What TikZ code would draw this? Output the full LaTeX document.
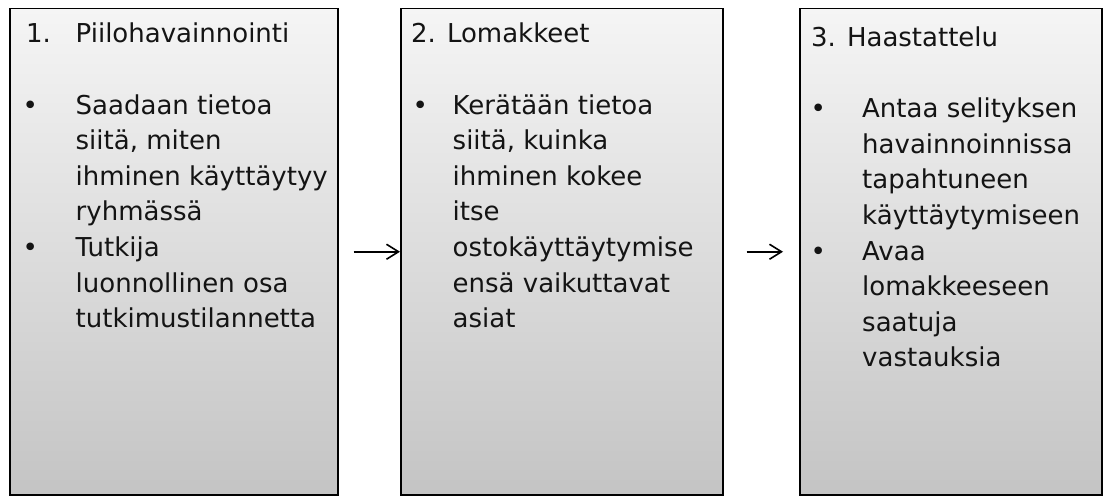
\documentclass[tikz,border=0pt]{standalone}
\usepackage{fontspec}
\setmainfont{DejaVu Sans}
\usetikzlibrary{arrows.meta,shadows}
\definecolor{boxtop}{RGB}{245,245,245}
\definecolor{boxbottom}{RGB}{196,196,196}
\newcommand{\bodyfont}{\fontsize{26bp}{35.6bp}\selectfont}
\newcommand{\bul}[1]{\makebox[#1][c]{\textbullet}}
\begin{document}
\begin{tikzpicture}[x=1bp,y=-1bp,
  stagebox/.style={draw=black, line width=1.5bp, inner sep=0pt,
    top color=boxtop, bottom color=boxbottom, anchor=north west,
    drop shadow={shadow xshift=1.5bp, shadow yshift=-1.5bp, opacity=0.35, fill=black}},
  stagetext/.style={anchor=base west, inner sep=0pt, text=black!92, font=\bodyfont},
  flow/.style={line width=1.6bp, -{Straight Barb[length=12bp,width=15bp,line width=1.6bp]}}]
\useasboundingbox (0,0) rectangle (1103,497);

% the three stages
\node[stagebox, minimum width=328bp, minimum height=486bp] (b1) at (9,8) {};
\node[stagebox, minimum width=322bp, minimum height=486bp] (b2) at (400,8) {};
\node[stagebox, minimum width=302bp, minimum height=486bp] (b3) at (799,8) {};

% stage texts
\node[stagetext] (t1) at (26,43) {%
  \begin{tabular}[t]{@{}p{49.5bp}@{}l@{}}
  1. & Piilohavainnointi\\
  & \\
  \bul{8bp} & Saadaan tietoa\\
  & siitä, miten\\
  & ihminen käyttäytyy\\
  & ryhmässä\\
  \bul{8bp} & Tutkija\\
  & luonnollinen osa\\
  & tutkimustilannetta
  \end{tabular}};

\node[stagetext] (t2) at (411,43) {%
  \begin{tabular}[t]{@{}p{41.5bp}@{}l@{}}
  \multicolumn{2}{@{}l@{}}{2. Lomakkeet}\\
  & \\
  \bul{18bp} & Kerätään tietoa\\
  & siitä, kuinka\\
  & ihminen kokee\\
  & itse\\
  & ostokäyttäytymise\\
  & ensä vaikuttavat\\
  & asiat
  \end{tabular}};

\node[stagetext] (t3) at (811,46.5) {%
  \begin{tabular}[t]{@{}p{51bp}@{}l@{}}
  \multicolumn{2}{@{}l@{}}{3. Haastattelu}\\
  & \\
  \bul{14bp} & Antaa selityksen\\
  & havainnoinnissa\\
  & tapahtuneen\\
  & käyttäytymiseen\\
  \bul{14bp} & Avaa\\
  & lomakkeeseen\\
  & saatuja\\
  & vastauksia
  \end{tabular}};

% connectors between stages
\draw[flow, shorten <=15bp] (b1.east) -- (b2.west);
\draw[flow, shorten <=23bp, shorten >=16bp] (b2.east) -- (b3.west);
\end{tikzpicture}
\end{document}
